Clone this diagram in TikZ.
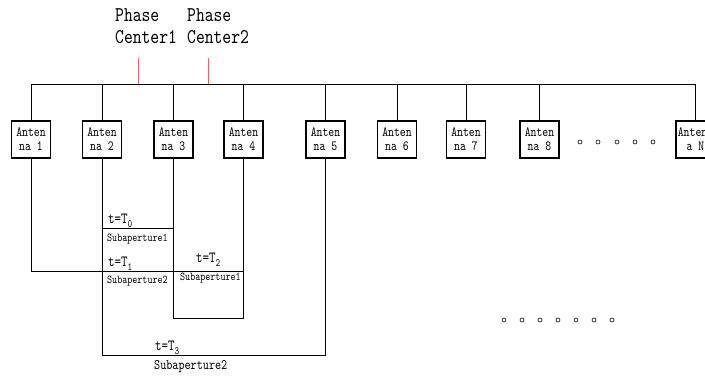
\documentclass[tikz,border=0pt]{standalone}
\usepackage{fontspec}
\newfontfamily\cfont[FakeStretch=0.8]{lmmono10-regular.otf}
\definecolor{tickred}{RGB}{236,100,110}
\begin{document}
\begin{tikzpicture}[x=1pt,y=-1pt,
  antbox/.style={draw,line width=1.2pt,minimum width=39pt,minimum height=37pt,inner sep=0pt,
    align=center,font=\cfont\fontsize{14}{14}\selectfont},
  wire/.style={line width=1pt,black},
  lbl/.style={anchor=west,inner sep=0pt,font=\cfont\fontsize{15.5}{16}\selectfont},
  sublbl/.style={anchor=west,inner sep=0pt,font=\cfont\fontsize{12}{12}\selectfont},
  pc/.style={anchor=north west,inner sep=0pt,align=left,font=\cfont\fontsize{21}{22}\selectfont},
  dot/.style={draw,circle,inner sep=0pt,minimum size=4pt,line width=0.6pt}]
\useasboundingbox (0,0) rectangle (705,376);
\clip (0,0) rectangle (705,376);
\fill[white] (0,0) rectangle (705,376);

% phase centre labels
\node[pc] (pc1) at (115,8) {Phase\\Center1};
\node[pc] (pc2) at (187,8) {Phase\\Center2};

% antenna boxes
\node[antbox] (a1) at (31,139.5) {Anten\\na 1};
\node[antbox] (a2) at (102,139.5) {Anten\\na 2};
\node[antbox] (a3) at (173.5,139.5) {Anten\\na 3};
\node[antbox] (a4) at (243.5,139.5) {Anten\\na 4};
\node[antbox] (a5) at (325.5,139.5) {Anten\\na 5};
\node[antbox] (a6) at (397,139.5) {Anten\\na 6};
\node[antbox] (a7) at (466,139.5) {Anten\\na 7};
\node[antbox] (a8) at (539.5,139.5) {Anten\\na 8};
\node[antbox] (aN) at (695.5,139.5) {Antenn\\a N};

% bus
\coordinate (busL) at (31,84);
\coordinate (busR) at (695.5,84);
\draw[wire] (busL) -- (busR);
\foreach \n in {a1,a2,a3,a4,a5,a6,a7,a8,aN}{
  \draw[wire] (\n.north) -- (\n.north |- busL);
}

% phase centre ticks
\coordinate (pcA) at (138,58);
\coordinate (pcB) at (208,58);
\draw[tickred,line width=0.8pt] (pcA) -- (pcA |- busL);
\draw[tickred,line width=0.8pt] (pcB) -- (pcB |- busL);

% dots
\foreach \x [count=\i] in {580,598,617,635,653}{
  \node[dot] (dt\i) at (\x,142) {};
}
\foreach \x [count=\i] in {504,522,540,558,576,594,612}{
  \node[dot] (db\i) at (\x,320) {};
}

% subaperture wiring
\coordinate (yT0) at (0,228);
\coordinate (yT1) at (0,271);
\coordinate (yB2) at (0,318);
\coordinate (yB3) at (0,355);
\draw[wire] (a2.south |- yT0) -- (a3.south |- yT0);
\draw[wire] (a1.south) -- (a1.south |- yT1) -- (a4.south |- yT1);
\draw[wire] (a3.south) -- (a3.south |- yB2) -| (a4.south);
\draw[wire] (a2.south) -- (a2.south |- yB3) -| (a5.south);

% labels
\node[lbl] (t0) at (108,221) {t=T\raisebox{-4pt}{\fontsize{11}{11}\selectfont 0}};
\node[sublbl] (s1a) at (107,239) {Subaperture1};
\node[lbl] (t1) at (108,264) {t=T\raisebox{-4pt}{\fontsize{11}{11}\selectfont 1}};
\node[sublbl] (s2a) at (107,281) {Subaperture2};
\node[lbl] (t2) at (196,260) {t=T\raisebox{-4pt}{\fontsize{11}{11}\selectfont 2}};
\node[sublbl] (s1b) at (180,278) {Subaperture1};
\node[lbl] (t3) at (155,348) {t=T\raisebox{-4pt}{\fontsize{11}{11}\selectfont 3}};
\node[lbl,font=\cfont\fontsize{14.5}{15}\selectfont] (s2b) at (154,367) {Subaperture2};
\end{tikzpicture}
\end{document}
